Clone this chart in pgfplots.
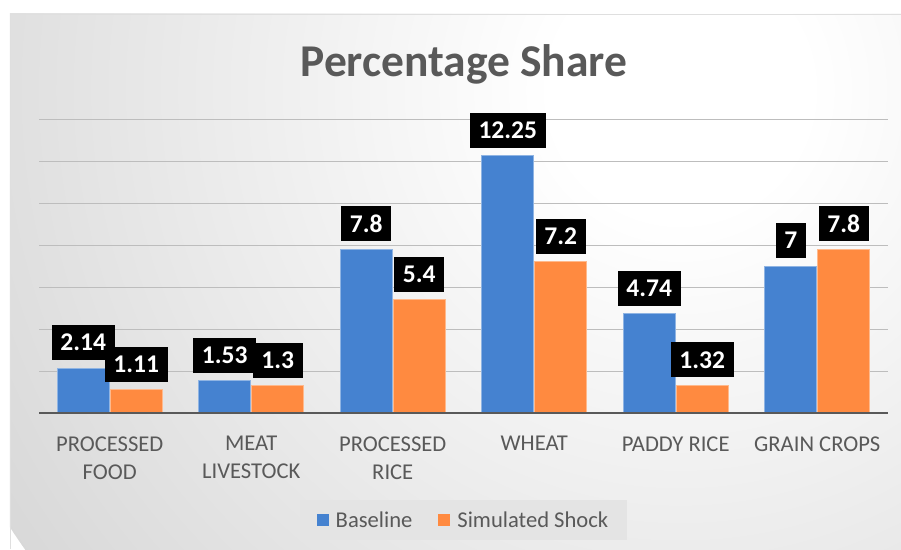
\documentclass[border=0pt]{standalone}
\usepackage{fontspec}
\setmainfont{Carlito}
\usepackage{pgfplots}
\pgfplotsset{compat=1.18}
\usetikzlibrary{backgrounds}
\definecolor{barblue}{HTML}{4582D0}
\definecolor{barorange}{HTML}{FF8A40}
\definecolor{txtgray}{HTML}{595959}
\definecolor{gridgray}{HTML}{BDBDBD}
\definecolor{bgdark}{HTML}{C6C6C6}
\definecolor{legbg}{HTML}{E4E4E4}
\pgfdeclareradialshading{bgshade}{\pgfpoint{0bp}{0bp}}{color(0bp)=(white); color(4bp)=(white); color(35bp)=(bgdark); color(50bp)=(bgdark)}
\begin{document}
\begin{tikzpicture}
\begin{axis}[
  name=ax, at={(0,0)}, anchor=south west,
  width=849pt, height=294pt, scale only axis,
  xmin=-0.5, xmax=5.5, ymin=0, ymax=14,
  axis line style={draw=none},
  tick style={draw=none},
  ytick={0,2,...,14}, yticklabels={},
  ymajorgrids, grid style={gridgray, line width=1pt},
  xtick={0,1,2,3,4,5},
  xticklabels={{PROCESSED\\FOOD},{MEAT\\LIVESTOCK},{PROCESSED\\RICE},{WHEAT},{PADDY RICE},{GRAIN CROPS}},
  xticklabel style={align=center, font=\fontsize{22.6}{28}\selectfont, text=txtgray, anchor=north, inner sep=0pt, yshift=-19pt},
  ybar=1pt, bar width=52pt,
  nodes near coords,
  /pgf/number format/assume math mode=true,
  every node near coord/.append style={fill=black, text=white, font=\fontsize{25.5}{30}\selectfont\bfseries, inner xsep=8.5pt, inner ysep=0pt, minimum height=35pt, anchor=south, yshift=7.5pt},
  legend columns=2,
  legend style={at={(0.5,-0.364)}, anchor=center, fill=legbg, draw=none, font=\fontsize{22.6}{26}\selectfont, text=txtgray, inner xsep=17pt, inner ysep=9pt, /tikz/every even column/.append style={column sep=24pt}},
  legend image code/.code={\path[draw=none, fill=none] (0pt,0pt) -- (17pt,0pt); \fill[#1, draw=none] (0pt,-6pt) rectangle (12pt,6pt);},
]
\addplot[fill=barblue, draw=barblue!60!white, line width=0.75pt] coordinates {(0,2.14) (1,1.53) (2,7.8) (3,12.25) (4,4.74) (5,7)};
\addplot[fill=barorange, draw=barorange!60!white, line width=0.75pt] coordinates {(0,1.11) (1,1.3) (2,5.4) (3,7.2) (4,1.32) (5,7.8)};
\legend{Baseline, Simulated Shock}
\draw[txtgray, line width=2.5pt] (rel axis cs:0,0) -- (rel axis cs:1,0);
\end{axis}
\pgfresetboundingbox
\begin{scope}[shift={(ax.south west)}, xshift=-39pt, yshift=-136pt, x=1pt, y=1pt]
\useasboundingbox (0,0) rectangle (901,549);
\begin{pgfonlayer}{background}
\fill[white] (0,0) rectangle (901,549);
\begin{scope}
\clip (10,0) rectangle (901,535);
\shade[shading=bgshade] (680,459) circle (800);
\end{scope}
\draw[gray!25, line width=1pt] (10.5,0) -- (10.5,534.5) -- (901,534.5);
\end{pgfonlayer}
\node[font=\fontsize{45.5}{50}\selectfont\bfseries, text=txtgray, anchor=base] at (464,472) {Percentage Share};
\end{scope}
\end{tikzpicture}
\end{document}
